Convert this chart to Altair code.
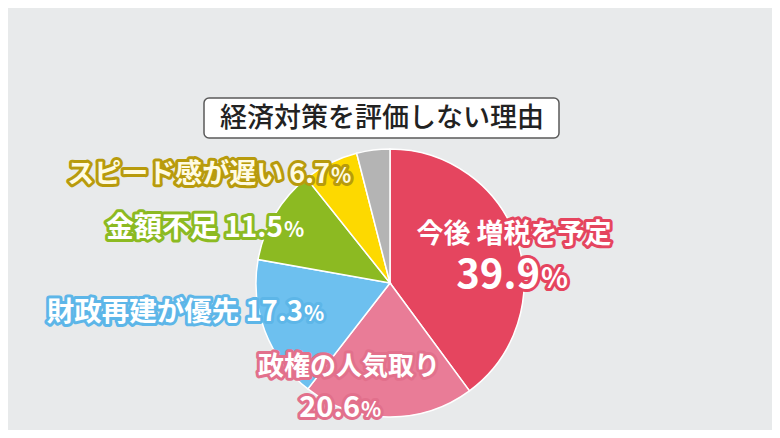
import altair as alt
import pandas as pd

# ---- data ----
categories = ["今後 増税を予定", "政権の人気取り", "財政再建が優先", "金額不足", "スピード感が遅い", "その他"]
values = [39.9, 20.6, 17.3, 11.5, 6.7, 4.0]
slice_colors = ["#e5455f", "#e97c97", "#6dc0ef", "#8cba22", "#fdd900", "#b4b4b4"]
title_text = "経済対策を評価しない理由"

# ---- styles / layout ----
FONT = "Noto Sans CJK JP"
BG = "#e8eaeb"
W, H = 764, 422
CX, CY, R = 382, 275, 134

df = pd.DataFrame({"cat": categories, "val": values, "order": list(range(len(categories)))})

pie = alt.Chart(df).mark_arc(outerRadius=R, stroke="white", strokeWidth=1.5).encode(
    theta=alt.Theta("val:Q", stack=True),
    order=alt.Order("order:Q"),
    color=alt.Color("cat:N", scale=alt.Scale(domain=categories, range=slice_colors), legend=None),
    x=alt.value(CX),
    y=alt.value(CY),
)


def outlined(text, x, y, size, fill, outline, align="center", baseline="alphabetic", sw=6):
    base = alt.Chart(pd.DataFrame({"t": [text]}))
    common = dict(font=FONT, fontSize=size, fontWeight="bold", align=align, baseline=baseline)
    o = base.mark_text(**common, fill=outline, stroke=outline, strokeWidth=sw, strokeJoin="round").encode(
        text="t:N", x=alt.value(x), y=alt.value(y))
    f = base.mark_text(**common, fill=fill).encode(text="t:N", x=alt.value(x), y=alt.value(y))
    return [o, f]


def fmt(v):
    return f"{v:.1f}"


layers = [pie]

# red label
layers += outlined(categories[0], 506, 227, 27, "white", "#e5455f", baseline="middle")
layers += outlined(fmt(values[0]), 532, 280, 40, "white", "#e5455f", align="right")
layers += outlined("%", 533, 280, 28, "white", "#e5455f", align="left")

# pink label
layers += outlined(categories[1], 341, 359, 26, "white", "#e2708c", baseline="middle")
layers += outlined(fmt(values[1]), 352, 409, 29, "white", "#e2708c", align="right")
layers += outlined("%", 353, 409, 21, "white", "#e2708c", align="left")

# blue label
layers += outlined(f"{categories[2]} {fmt(values[2])}", 295, 313, 27.5, "white", "#5db6e8", align="right")
layers += outlined("%", 296, 313, 21, "white", "#5db6e8", align="left")

# green label
layers += outlined(f"{categories[3]}  {fmt(values[3])}", 275, 229, 28, "white", "#8cba22", align="right")
layers += outlined("%", 276, 229, 21, "white", "#8cba22", align="left")

# yellow label
layers += outlined(f"{categories[4]} {fmt(values[4])}", 322, 175, 27, "#fffbe3", "#b89b0c", align="right")
layers += outlined("%", 323, 175, 21, "#fffbe3", "#b89b0c", align="left")

# title box
box = alt.Chart(pd.DataFrame({"t": [title_text]})).mark_rect(
    fill="white", stroke="#5a5a5a", strokeWidth=1.5, cornerRadius=5
).encode(x=alt.value(196), x2=alt.value(551), y=alt.value(90), y2=alt.value(130))
title = alt.Chart(pd.DataFrame({"t": [title_text]})).mark_text(
    font=FONT, fontSize=27, fontWeight=500, color="#222222", align="center", baseline="middle"
).encode(text="t:N", x=alt.value(374), y=alt.value(111))
layers += [box, title]

chart = alt.layer(*layers).properties(
    width=W, height=H, padding=0, autosize="none", background=BG
).configure_view(stroke=None)

chart.save("out.html", embed_options={"renderer": "svg", "actions": False})
